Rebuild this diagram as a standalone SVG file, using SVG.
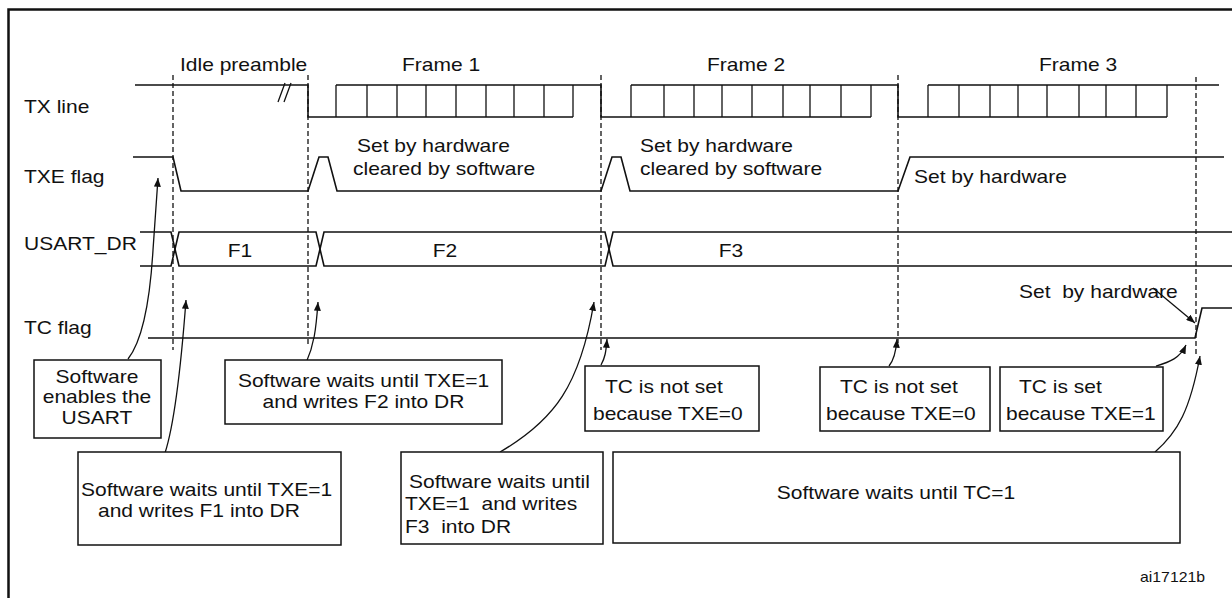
<svg xmlns="http://www.w3.org/2000/svg" width="1232" height="598" viewBox="0 0 1232 598">
<style>
text{font-family:"Liberation Sans",Arial,sans-serif;font-size:18.6px;fill:#111}
.m{text-anchor:middle}
.sm{font-size:14px}
.w{fill:none;stroke:#111;stroke-width:1.6;stroke-linejoin:miter}
.bit{stroke:#111;stroke-width:1.3}
.d{stroke:#111;stroke-width:1.3;stroke-dasharray:5,3}
.box{fill:#fff;stroke:#111;stroke-width:1.5}
.c{fill:none;stroke:#111;stroke-width:1.3;marker-end:url(#ah)}
</style>
<defs>
<marker id="ah" viewBox="0 0 10 8" refX="10" refY="4" markerWidth="9" markerHeight="7" orient="auto" markerUnits="userSpaceOnUse"><path d="M0,0 L10,4 L0,8 z" fill="#111"/></marker>
</defs>
<rect width="1232" height="598" fill="#fff"/>
<g id="frame">
<path d="M8.5,598 V9.5 H1232" fill="none" stroke="#111" stroke-width="2.5"/>
</g>
<g id="signal-labels">
<text transform="translate(24,113) scale(1.13,1)">TX line</text>
<text transform="translate(24,183) scale(1.13,1)">TXE flag</text>
<text transform="translate(24,250) scale(1.13,1)">USART_DR</text>
<text transform="translate(24,334) scale(1.13,1)">TC flag</text>
</g>
<g id="phase-labels">
<text transform="translate(180,71) scale(1.13,1)">Idle preamble</text>
<text class="m" transform="translate(441,71) scale(1.13,1)">Frame 1</text>
<text class="m" transform="translate(746,71) scale(1.13,1)">Frame 2</text>
<text class="m" transform="translate(1078,71) scale(1.13,1)">Frame 3</text>
</g>
<g id="time-markers">
<line class="d" x1="173" y1="75" x2="173" y2="350"/>
<line class="d" x1="308" y1="75" x2="308" y2="347"/>
<line class="d" x1="601" y1="75" x2="601" y2="350"/>
<line class="d" x1="898" y1="75" x2="898" y2="343"/>
<line class="d" x1="1196" y1="77" x2="1196" y2="355"/>
</g>
<g id="tx-line">
<path class="w" d="M135,85 H308 V117 H573 M336,85 H601 V117 H871 M631,85 H898 V117 H1167 M928,85 H1219"/>
<path class="bit" d="M336,85V117M367,85V117M397,85V117M426,85V117M456,85V117M486,85V117M514,85V117M544,85V117M573,85V117
M631,85V117M664,85V117M694,85V117M722,85V117M752,85V117M783,85V117M810,85V117M841,85V117M871,85V117
M928,85V117M959,85V117M990,85V117M1018,85V117M1047,85V117M1079,85V117M1106,85V117M1136,85V117M1167,85V117"/>
<path class="bit" d="M278,102 L285,83 M284,102 L291,83"/>
</g>
<g id="txe-flag">
<path class="w" d="M133,157 H173 L181,191 H308 L319,157 H328 L337,191 H601 L612,157 H621 L630,191 H898 L910,157 H1224"/>
<text transform="translate(357,152) scale(1.13,1)">Set by hardware</text>
<text transform="translate(353,175) scale(1.13,1)">cleared by software</text>
<text transform="translate(640,152) scale(1.13,1)">Set by hardware</text>
<text transform="translate(640,175) scale(1.13,1)">cleared by software</text>
<text transform="translate(914,183) scale(1.13,1)">Set by hardware</text>
</g>
<g id="usart-dr">
<path class="w" d="M140,232 H171 L179,266 H316 L324,232 H605 L613,266 H1232"/>
<path class="w" d="M140,266 H171 L179,232 H316 L324,266 H605 L613,232 H1232"/>
<text class="m" transform="translate(240,257) scale(1.13,1)">F1</text>
<text class="m" transform="translate(445,257) scale(1.13,1)">F2</text>
<text class="m" transform="translate(731,257) scale(1.13,1)">F3</text>
</g>
<g id="tc-flag">
<path class="w" d="M148,338 H1195 L1202,308 H1232"/>
<text xml:space="preserve" transform="translate(1019,298) scale(1.13,1)">Set  by hardware</text>
</g>
<g id="connectors">
<path class="c" d="M128,359 C143,340 150,300 153,250 L158,178"/>
<path class="c" d="M165,453 C174,425 180,380 186,300"/>
<path class="c" d="M306,363 C314,345 316,330 318,302"/>
<path class="c" d="M500,452 C555,420 580,385 594,302"/>
<path class="c" d="M601,365 C605,358 606,352 607,339"/>
<path class="c" d="M889,366 C894,360 896,352 897,339"/>
<path class="c" d="M1156,366 C1170,362 1180,358 1186,345"/>
<path class="c" d="M1155,452 C1178,432 1190,410 1200,356"/>
<path class="c" d="M1153,288 L1195,323"/>
</g>
<g id="box-enable">
<rect class="box" x="34" y="360" width="127" height="78"/>
<text class="m" transform="translate(97,383) scale(1.13,1)">Software</text>
<text class="m" transform="translate(97,403) scale(1.13,1)">enables the</text>
<text class="m" transform="translate(97,424) scale(1.13,1)">USART</text>
</g>
<g id="box-f1">
<rect class="box" x="78" y="452" width="263" height="93"/>
<text transform="translate(81,496) scale(1.13,1)">Software waits until TXE=1</text>
<text transform="translate(98,517) scale(1.13,1)">and writes F1 into DR</text>
</g>
<g id="box-f2">
<rect class="box" x="225" y="360" width="277" height="64"/>
<text class="m" transform="translate(363.5,387) scale(1.13,1)">Software waits until TXE=1</text>
<text class="m" transform="translate(363.5,408) scale(1.13,1)">and writes F2 into DR</text>
</g>
<g id="box-f3">
<rect class="box" x="401" y="452" width="202" height="92"/>
<text transform="translate(409,488) scale(1.13,1)">Software waits until</text>
<text xml:space="preserve" transform="translate(405,510) scale(1.13,1)">TXE=1  and writes</text>
<text xml:space="preserve" transform="translate(405,533) scale(1.13,1)">F3  into DR</text>
</g>
<g id="box-tc1">
<rect class="box" x="585" y="366" width="174" height="65"/>
<text transform="translate(605,393) scale(1.13,1)">TC is not set</text>
<text transform="translate(593,420) scale(1.13,1)">because TXE=0</text>
</g>
<g id="box-tc2">
<rect class="box" x="820" y="367" width="170" height="64"/>
<text transform="translate(840,393) scale(1.13,1)">TC is not set</text>
<text transform="translate(826,420) scale(1.13,1)">because TXE=0</text>
</g>
<g id="box-tc3">
<rect class="box" x="1000" y="367" width="163" height="64"/>
<text transform="translate(1019,393) scale(1.13,1)">TC is set</text>
<text transform="translate(1006,420) scale(1.13,1)">because TXE=1</text>
</g>
<g id="box-tc-wait">
<rect class="box" x="613" y="452" width="567" height="91"/>
<text class="m" transform="translate(896,499) scale(1.13,1)">Software waits until TC=1</text>
</g>
<text class="sm" transform="translate(1140,582) scale(1.13,1)">ai17121b</text>
</svg>
